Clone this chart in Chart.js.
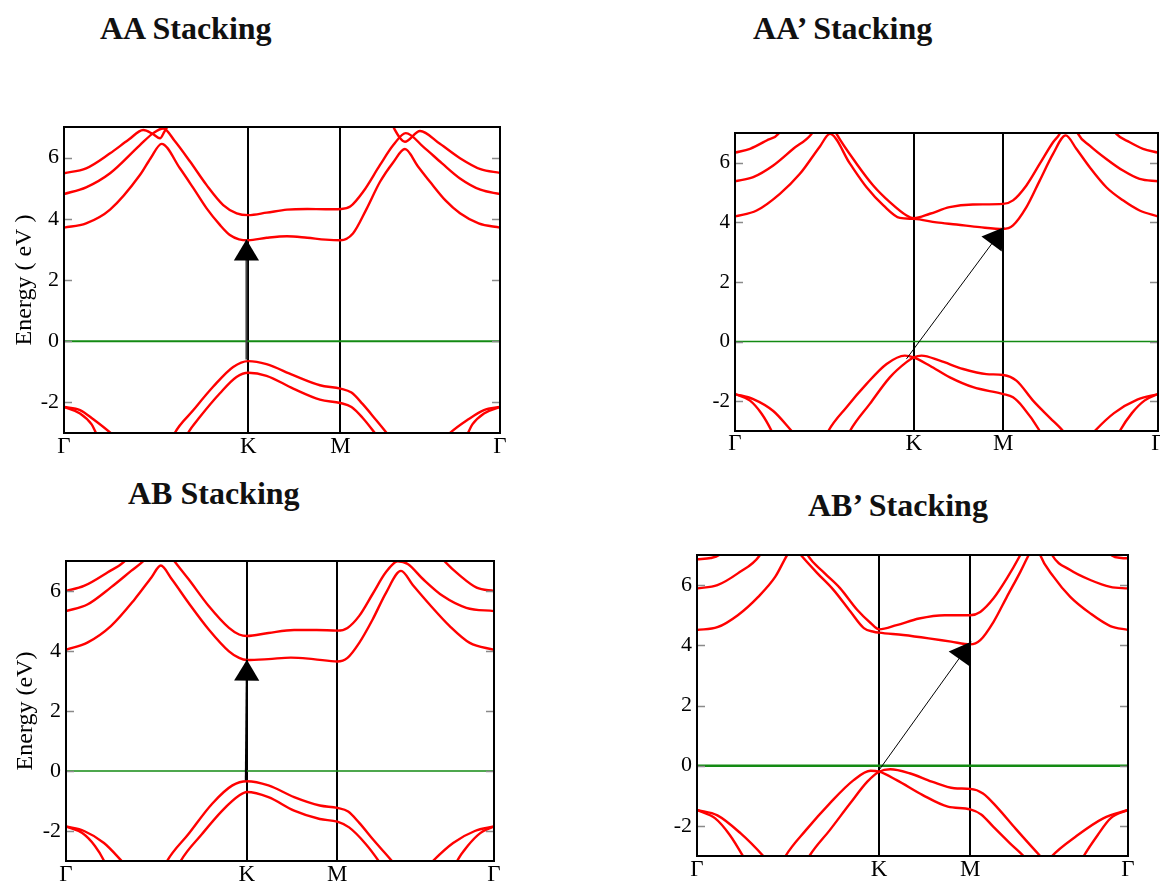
<!DOCTYPE html>
<html>
<head>
<meta charset="utf-8">
<script src="https://cdn.jsdelivr.net/npm/chart.js@4.4.1/dist/chart.umd.min.js"></script>
<style>
  html, body { margin: 0; padding: 0; background: #fff; }
  #page { position: relative; width: 1160px; height: 881px; overflow: hidden;
          font-family: 'Liberation Serif', 'Times New Roman', serif; }
  .title { position: absolute; font-weight: bold; font-size: 32px; line-height: 32px;
           white-space: nowrap; color: #111; }
  .panel { position: absolute; }
</style>
</head>
<body>
<div id="page">
  <div class="title" style="left:100px;top:12px">AA Stacking</div>
  <div class="title" style="left:753px;top:12px">AA’ Stacking</div>
  <div class="title" style="left:128px;top:477px">AB Stacking</div>
  <div class="title" style="left:808px;top:489px">AB’ Stacking</div>

  <div class="panel" style="left:0;top:100px;width:510px;height:370px"><canvas id="aa"></canvas></div>
  <div class="panel" style="left:680px;top:100px;width:480px;height:370px"><canvas id="aap"></canvas></div>
  <div class="panel" style="left:0;top:530px;width:510px;height:351px"><canvas id="ab"></canvas></div>
  <div class="panel" style="left:640px;top:530px;width:520px;height:351px"><canvas id="abp"></canvas></div>
</div>
<script>
// ---------- Axis data ----------
// k-path Γ–K–M–Γ (K at 1, M at 1.5, back to Γ at 1+0.5+0.866)
const kLabels = ['Γ', 'K', 'M', 'Γ'];
const kTicks = [0, 1, 1.5, 2.366];
const eTicks = [-2, 0, 2, 4, 6];
const zeroLine = [[0, 0], [2.366, 0]];

// ---------- AA stacking (pairs are [k, E in eV]) ----------
const aaC1 = [[0,3.71],[0.12,3.85],[0.25,4.3],[0.412,5.43],[0.47,5.98],[0.53,6.45],[0.629,5.65],[0.702,5.0],[0.774,4.34],[0.846,3.8],[0.9,3.47],[0.95,3.33],[1.0,3.3],[1.1,3.38],[1.21,3.43],[1.32,3.38],[1.42,3.32],[1.5,3.3],[1.568,3.52],[1.64,4.3],[1.715,5.21],[1.787,5.85],[1.85,6.28],[1.92,5.72],[1.986,5.21],[2.07,4.6],[2.149,4.18],[2.25,3.85],[2.366,3.71]];
const aaC2 = [[0,4.81],[0.12,5.03],[0.25,5.49],[0.412,6.41],[0.485,6.8],[0.539,6.95],[0.6,6.55],[0.684,5.87],[0.774,5.1],[0.864,4.45],[0.937,4.18],[1.0,4.12],[1.1,4.2],[1.21,4.3],[1.32,4.32],[1.42,4.31],[1.5,4.32],[1.553,4.4],[1.624,4.89],[1.715,5.76],[1.787,6.41],[1.855,6.8],[1.95,6.35],[2.05,5.82],[2.149,5.32],[2.26,4.95],[2.366,4.81]];
const aaC3 = [[0,5.49],[0.12,5.65],[0.25,6.14],[0.35,6.58],[0.43,6.9],[0.48,6.78],[0.521,6.63],[0.545,6.85],[0.565,7.05],[0.6,7.5]];
const aaC3r = [[1.75,7.5],[1.787,7.0],[1.85,6.52],[1.932,6.87],[2.04,6.45],[2.149,5.98],[2.26,5.62],[2.366,5.5]];
const aaV1 = [[0.58,-3.3],[0.601,-3.0],[0.701,-2.26],[0.809,-1.49],[0.918,-0.84],[1.0,-0.65],[1.099,-0.75],[1.244,-1.11],[1.389,-1.44],[1.5,-1.55],[1.56,-1.68],[1.62,-2.05],[1.69,-2.55],[1.751,-3.0],[1.77,-3.15]];
const aaV2 = [[0.65,-3.3],[0.673,-3.0],[0.737,-2.48],[0.845,-1.71],[0.936,-1.17],[1.0,-1.03],[1.099,-1.13],[1.244,-1.55],[1.389,-1.91],[1.5,-2.02],[1.56,-2.15],[1.62,-2.5],[1.687,-3.0],[1.71,-3.18]];
const aaG1 = [[0,-2.15],[0.087,-2.36],[0.15,-2.72],[0.174,-3.0],[0.19,-3.2]];
const aaG2 = [[0,-2.15],[0.087,-2.25],[0.159,-2.55],[0.253,-3.0],[0.27,-3.1]];
const aaG3 = [[2.176,-3.2],[2.192,-3.0],[2.216,-2.72],[2.279,-2.36],[2.366,-2.15]];
const aaG4 = [[2.08,-3.1],[2.095,-3.0],[2.19,-2.57],[2.279,-2.25],[2.366,-2.15]];
const aaArrow = [[0.99,-0.6],[0.99,3.32]];

// ---------- AA' stacking ----------
const apC1 = [[0,4.2],[0.121,4.4],[0.251,4.96],[0.363,5.63],[0.475,6.55],[0.531,6.97],[0.643,5.97],[0.736,5.18],[0.83,4.57],[0.922,4.15],[1.0,4.12],[1.127,4.0],[1.239,3.93],[1.369,3.84],[1.5,3.78],[1.555,3.9],[1.63,4.51],[1.705,5.41],[1.779,6.3],[1.85,6.92],[1.909,6.47],[1.984,5.85],[2.077,5.18],[2.17,4.74],[2.263,4.4],[2.366,4.2]];
const apC2 = [[0,5.38],[0.102,5.52],[0.214,5.91],[0.326,6.47],[0.428,6.97],[0.46,7.3],[0.54,7.3],[0.568,6.97],[0.68,5.97],[0.773,5.24],[0.866,4.68],[0.96,4.23],[1.0,4.14],[1.09,4.29],[1.2,4.51],[1.33,4.6],[1.5,4.62],[1.555,4.74],[1.63,5.24],[1.705,5.97],[1.779,6.69],[1.816,6.97],[1.84,7.3],[1.9,7.3],[1.919,6.97],[1.984,6.58],[2.077,6.13],[2.17,5.74],[2.263,5.46],[2.366,5.38]];
const apC3 = [[0,6.34],[0.084,6.47],[0.177,6.75],[0.242,6.97],[0.27,7.3]];
const apC3r = [[2.1,7.3],[2.133,6.97],[2.208,6.69],[2.282,6.47],[2.366,6.34]];
const apV1 = [[0.5,-3.3],[0.522,-3.0],[0.624,-2.2],[0.736,-1.42],[0.848,-0.75],[0.95,-0.47],[1.0,-0.53],[1.09,-0.81],[1.202,-1.2],[1.332,-1.53],[1.5,-1.76],[1.555,-1.87],[1.611,-2.2],[1.705,-3.0],[1.73,-3.3]];
const apV2 = [[0.62,-3.3],[0.643,-3.0],[0.754,-2.09],[0.866,-1.2],[0.959,-0.69],[1.0,-0.53],[1.043,-0.47],[1.146,-0.64],[1.276,-0.92],[1.406,-1.09],[1.5,-1.12],[1.574,-1.31],[1.667,-1.98],[1.76,-2.55],[1.835,-3.0],[1.86,-3.2]];
const apG1 = [[0,-1.76],[0.084,-1.98],[0.149,-2.42],[0.205,-3.0],[0.22,-3.2]];
const apG2 = [[0,-1.76],[0.102,-1.93],[0.214,-2.33],[0.317,-3.0],[0.34,-3.15]];
const apG3 = [[2.135,-3.2],[2.152,-3.0],[2.22,-2.4],[2.29,-1.98],[2.366,-1.76]];
const apG4 = [[1.99,-3.15],[2.012,-3.0],[2.12,-2.4],[2.25,-1.95],[2.366,-1.76]];
const apArrow = [[0.959,-0.58],[1.505,3.84]];

// ---------- AB stacking ----------
const abC1 = [[0,4.04],[0.118,4.28],[0.248,4.83],[0.379,5.72],[0.472,6.45],[0.524,6.85],[0.584,6.4],[0.677,5.61],[0.789,4.72],[0.901,3.99],[0.957,3.77],[1.0,3.7],[1.119,3.73],[1.243,3.78],[1.367,3.73],[1.5,3.65],[1.556,3.77],[1.621,4.27],[1.695,5.05],[1.769,5.94],[1.852,6.67],[1.917,6.2],[2.01,5.55],[2.121,4.83],[2.232,4.27],[2.366,4.04]];
const abC2 = [[0,5.33],[0.118,5.55],[0.248,6.12],[0.36,6.67],[0.435,7.04],[0.47,7.3],[0.56,7.3],[0.593,7.04],[0.677,6.4],[0.789,5.5],[0.901,4.77],[0.957,4.55],[1.0,4.5],[1.119,4.6],[1.261,4.7],[1.385,4.7],[1.5,4.68],[1.556,4.77],[1.621,5.17],[1.695,5.9],[1.769,6.63],[1.834,6.99],[1.889,6.9],[1.973,6.4],[2.084,5.83],[2.213,5.44],[2.366,5.33]];
const abC3 = [[0,6.0],[0.099,6.17],[0.229,6.62],[0.332,7.04],[0.36,7.3]];
const abC3r = [[2.05,7.3],[2.085,7.04],[2.178,6.51],[2.27,6.11],[2.366,6.0]];
const abV1 = [[0.54,-3.25],[0.556,-3.03],[0.677,-2.1],[0.808,-1.09],[0.92,-0.48],[1.0,-0.34],[1.119,-0.48],[1.261,-0.87],[1.403,-1.15],[1.5,-1.23],[1.56,-1.35],[1.62,-1.72],[1.7,-2.3],[1.806,-3.03],[1.83,-3.2]];
const abV2 = [[0.615,-3.25],[0.631,-3.03],[0.752,-2.1],[0.864,-1.32],[0.957,-0.82],[1.0,-0.7],[1.119,-0.87],[1.261,-1.32],[1.403,-1.6],[1.5,-1.69],[1.565,-1.88],[1.658,-2.44],[1.732,-3.03],[1.75,-3.2]];
const abG1 = [[0,-1.85],[0.09,-2.07],[0.16,-2.5],[0.211,-3.0],[0.225,-3.2]];
const abG2 = [[0,-1.85],[0.1,-2.0],[0.21,-2.4],[0.308,-3.0],[0.33,-3.15]];
const abG3 = [[2.148,-3.2],[2.162,-3.0],[2.22,-2.5],[2.29,-2.07],[2.366,-1.85]];
const abG4 = [[2.005,-3.15],[2.028,-3.0],[2.14,-2.4],[2.26,-2.0],[2.366,-1.85]];
const abArrow = [[0.994,-0.31],[1.0,3.71]];

// ---------- AB' stacking ----------
const bpC1 = [[0,4.51],[0.112,4.6],[0.224,5.0],[0.336,5.61],[0.43,6.28],[0.495,7.0],[0.53,7.3],[0.57,7.0],[0.66,6.4],[0.748,5.85],[0.841,5.13],[0.916,4.57],[0.97,4.45],[1.0,4.42],[1.132,4.34],[1.272,4.23],[1.395,4.12],[1.5,4.03],[1.555,4.17],[1.628,4.78],[1.701,5.61],[1.775,6.44],[1.821,7.0],[1.85,7.3],[1.87,7.3],[1.884,7.0],[1.957,6.28],[2.049,5.61],[2.159,5.06],[2.269,4.64],[2.366,4.51]];
const bpC2 = [[0,5.89],[0.112,6.0],[0.224,6.39],[0.346,7.0],[0.37,7.3],[0.585,7.3],[0.607,7.0],[0.7,6.4],[0.785,5.9],[0.879,5.18],[0.953,4.74],[1.0,4.53],[1.096,4.67],[1.219,4.89],[1.36,5.0],[1.5,5.0],[1.555,5.11],[1.628,5.56],[1.701,6.22],[1.775,7.0],[1.8,7.3],[1.93,7.3],[1.949,7.0],[2.049,6.5],[2.159,6.17],[2.269,5.94],[2.366,5.89]];
const bpC3 = [[0,6.86],[0.075,6.9],[0.121,7.0],[0.15,7.2]];
const bpC3r = [[2.25,7.2],[2.278,6.98],[2.33,6.9],[2.366,6.89]];
const bpV1 = [[0.47,-3.2],[0.486,-3.0],[0.598,-2.14],[0.729,-1.25],[0.86,-0.48],[0.953,-0.17],[1.0,-0.2],[1.096,-0.48],[1.237,-0.97],[1.377,-1.36],[1.5,-1.45],[1.56,-1.62],[1.63,-2.05],[1.71,-2.53],[1.793,-3.0],[1.81,-3.1]];
const bpV2 = [[0.6,-3.2],[0.617,-3.0],[0.729,-2.14],[0.841,-1.25],[0.935,-0.53],[1.0,-0.2],[1.061,-0.12],[1.167,-0.25],[1.289,-0.53],[1.412,-0.75],[1.5,-0.77],[1.57,-0.92],[1.65,-1.4],[1.75,-2.1],[1.884,-3.0],[1.9,-3.1]];
const bpG1 = [[0,-1.47],[0.1,-1.75],[0.18,-2.3],[0.252,-3.0],[0.27,-3.2]];
const bpG2 = [[0,-1.47],[0.112,-1.65],[0.24,-2.25],[0.364,-3.0],[0.385,-3.15]];
const bpG3 = [[2.105,-3.2],[2.123,-3.0],[2.2,-2.3],[2.27,-1.75],[2.366,-1.47]];
const bpG4 = [[1.93,-3.15],[1.949,-3.0],[2.08,-2.35],[2.23,-1.75],[2.366,-1.47]];
const bpArrow = [[1.0,-0.14],[1.505,4.12]];

// ---------- Helpers ----------
const SERIF = "'Liberation Serif', 'Times New Roman', serif";
const pts = (arr) => arr.map(p => ({x: p[0], y: p[1]}));

// frame, inward ticks, arrow heads and the Γ K M labels
const bandFrame = {
  id: 'bandFrame',
  afterDatasetsDraw(chart, args, opts) {
    const {ctx, chartArea: a, scales: {x, y}} = chart;
    ctx.save();
    ctx.strokeStyle = '#8a8a8a';
    ctx.lineWidth = 1.5;
    eTicks.forEach(v => {
      const py = Math.round(y.getPixelForValue(v)) + 0.5;
      ctx.beginPath();
      ctx.moveTo(a.left, py); ctx.lineTo(a.left + 8, py);
      ctx.moveTo(a.right, py); ctx.lineTo(a.right - 8, py);
      ctx.stroke();
    });

    chart.data.datasets.forEach((ds, i) => {
      if (!ds.arrowHead) return;
      const el = chart.getDatasetMeta(i).data;
      const p0 = el[el.length - 2], p1 = el[el.length - 1];
      const ang = Math.atan2(p1.y - p0.y, p1.x - p0.x);
      const L = ds.arrowHead, W = ds.arrowHead * 0.6;
      const bx = p1.x - L * Math.cos(ang), by = p1.y - L * Math.sin(ang);
      ctx.fillStyle = '#000';
      ctx.beginPath();
      ctx.moveTo(p1.x, p1.y);
      ctx.lineTo(bx + W * Math.sin(ang), by - W * Math.cos(ang));
      ctx.lineTo(bx - W * Math.sin(ang), by + W * Math.cos(ang));
      ctx.closePath();
      ctx.fill();
    });

    ctx.strokeStyle = '#000';
    ctx.lineWidth = 2;
    ctx.strokeRect(a.left, a.top, a.right - a.left, a.bottom - a.top);

    ctx.fillStyle = '#000';
    ctx.font = `${opts.labelSize}px ${SERIF}`;
    ctx.textAlign = 'center';
    ctx.textBaseline = 'top';
    kTicks.forEach((v, i) => ctx.fillText(kLabels[i], x.getPixelForValue(v), a.bottom + opts.labelGap));
    ctx.restore();
  }
};

function bandChart(id, cfg){
  const datasets = [
    {data: pts(cfg.arrow), borderColor: cfg.arrowColor, borderWidth: cfg.arrowWidth, arrowHead: 21},
    {data: pts(zeroLine), borderColor: '#138a13', borderWidth: cfg.zeroWidth}
  ];
  cfg.bands.forEach(b => datasets.push({
    data: pts(b), borderColor: '#ff0000', borderWidth: 2.4, cubicInterpolationMode: 'monotone'
  }));

  return new Chart(document.getElementById(id), {
    type: 'line',
    data: {datasets},
    options: {
      responsive: true,
      maintainAspectRatio: false,
      animation: false,
      events: [],
      layout: {padding: cfg.pad},
      elements: {point: {radius: 0}, line: {fill: false}},
      plugins: {
        legend: {display: false},
        tooltip: {enabled: false},
        bandFrame: {labelGap: cfg.labelGap, labelSize: 23}
      },
      scales: {
        x: {
          type: 'linear', min: 0, max: 2.366,
          afterBuildTicks: s => { s.ticks = kTicks.map(v => ({value: v})); },
          afterFit: s => { s.height = cfg.xH; },
          ticks: {display: false},
          grid: {color: '#000', lineWidth: 2, drawTicks: false},
          border: {display: false}
        },
        y: {
          min: -3, max: 7,
          afterBuildTicks: s => { s.ticks = eTicks.map(v => ({value: v})); },
          afterFit: s => { s.width = cfg.yW; },
          grid: {display: false, drawTicks: false},
          border: {display: false},
          ticks: {color: '#000', padding: 5, font: {family: SERIF, size: cfg.tickSize}},
          title: {
            display: !!cfg.yTitle, text: cfg.yTitle || '', color: '#000',
            font: {family: SERIF, size: 24}, padding: {top: cfg.titlePad || 10, bottom: 0}
          }
        }
      }
    },
    plugins: [bandFrame]
  });
}

bandChart('aa', {
  bands: [aaC1, aaC2, aaC3, aaC3r, aaV1, aaV2, aaG1, aaG2, aaG3, aaG4],
  arrow: aaArrow, arrowColor: '#444', arrowWidth: 2, zeroWidth: 2,
  yTitle: 'Energy ( eV )', titlePad: 10, yW: 64, xH: 30, labelGap: 2, tickSize: 22,
  pad: {top: 27, right: 10, bottom: 7, left: 0}
});
bandChart('aap', {
  bands: [apC1, apC2, apC3, apC3r, apV1, apV2, apG1, apG2, apG3, apG4],
  arrow: apArrow, arrowColor: '#000', arrowWidth: 1, zeroWidth: 1.5,
  yW: 55, xH: 30, labelGap: 1, tickSize: 21,
  pad: {top: 33, right: 2, bottom: 9, left: 0}
});
bandChart('ab', {
  bands: [abC1, abC2, abC3, abC3r, abV1, abV2, abG1, abG2, abG3, abG4],
  arrow: abArrow, arrowColor: '#000', arrowWidth: 2, zeroWidth: 1.5,
  yTitle: 'Energy (eV)', titlePad: 11, yW: 66, xH: 20, labelGap: 2, tickSize: 22,
  pad: {top: 31, right: 16, bottom: 0, left: 0}
});
bandChart('abp', {
  bands: [bpC1, bpC2, bpC3, bpC3r, bpV1, bpV2, bpG1, bpG2, bpG3, bpG4],
  arrow: bpArrow, arrowColor: '#000', arrowWidth: 1, zeroWidth: 2.5,
  yW: 57, xH: 25, labelGap: 2, tickSize: 22,
  pad: {top: 25, right: 32, bottom: 0, left: 0}
});
</script>
</body>
</html>
